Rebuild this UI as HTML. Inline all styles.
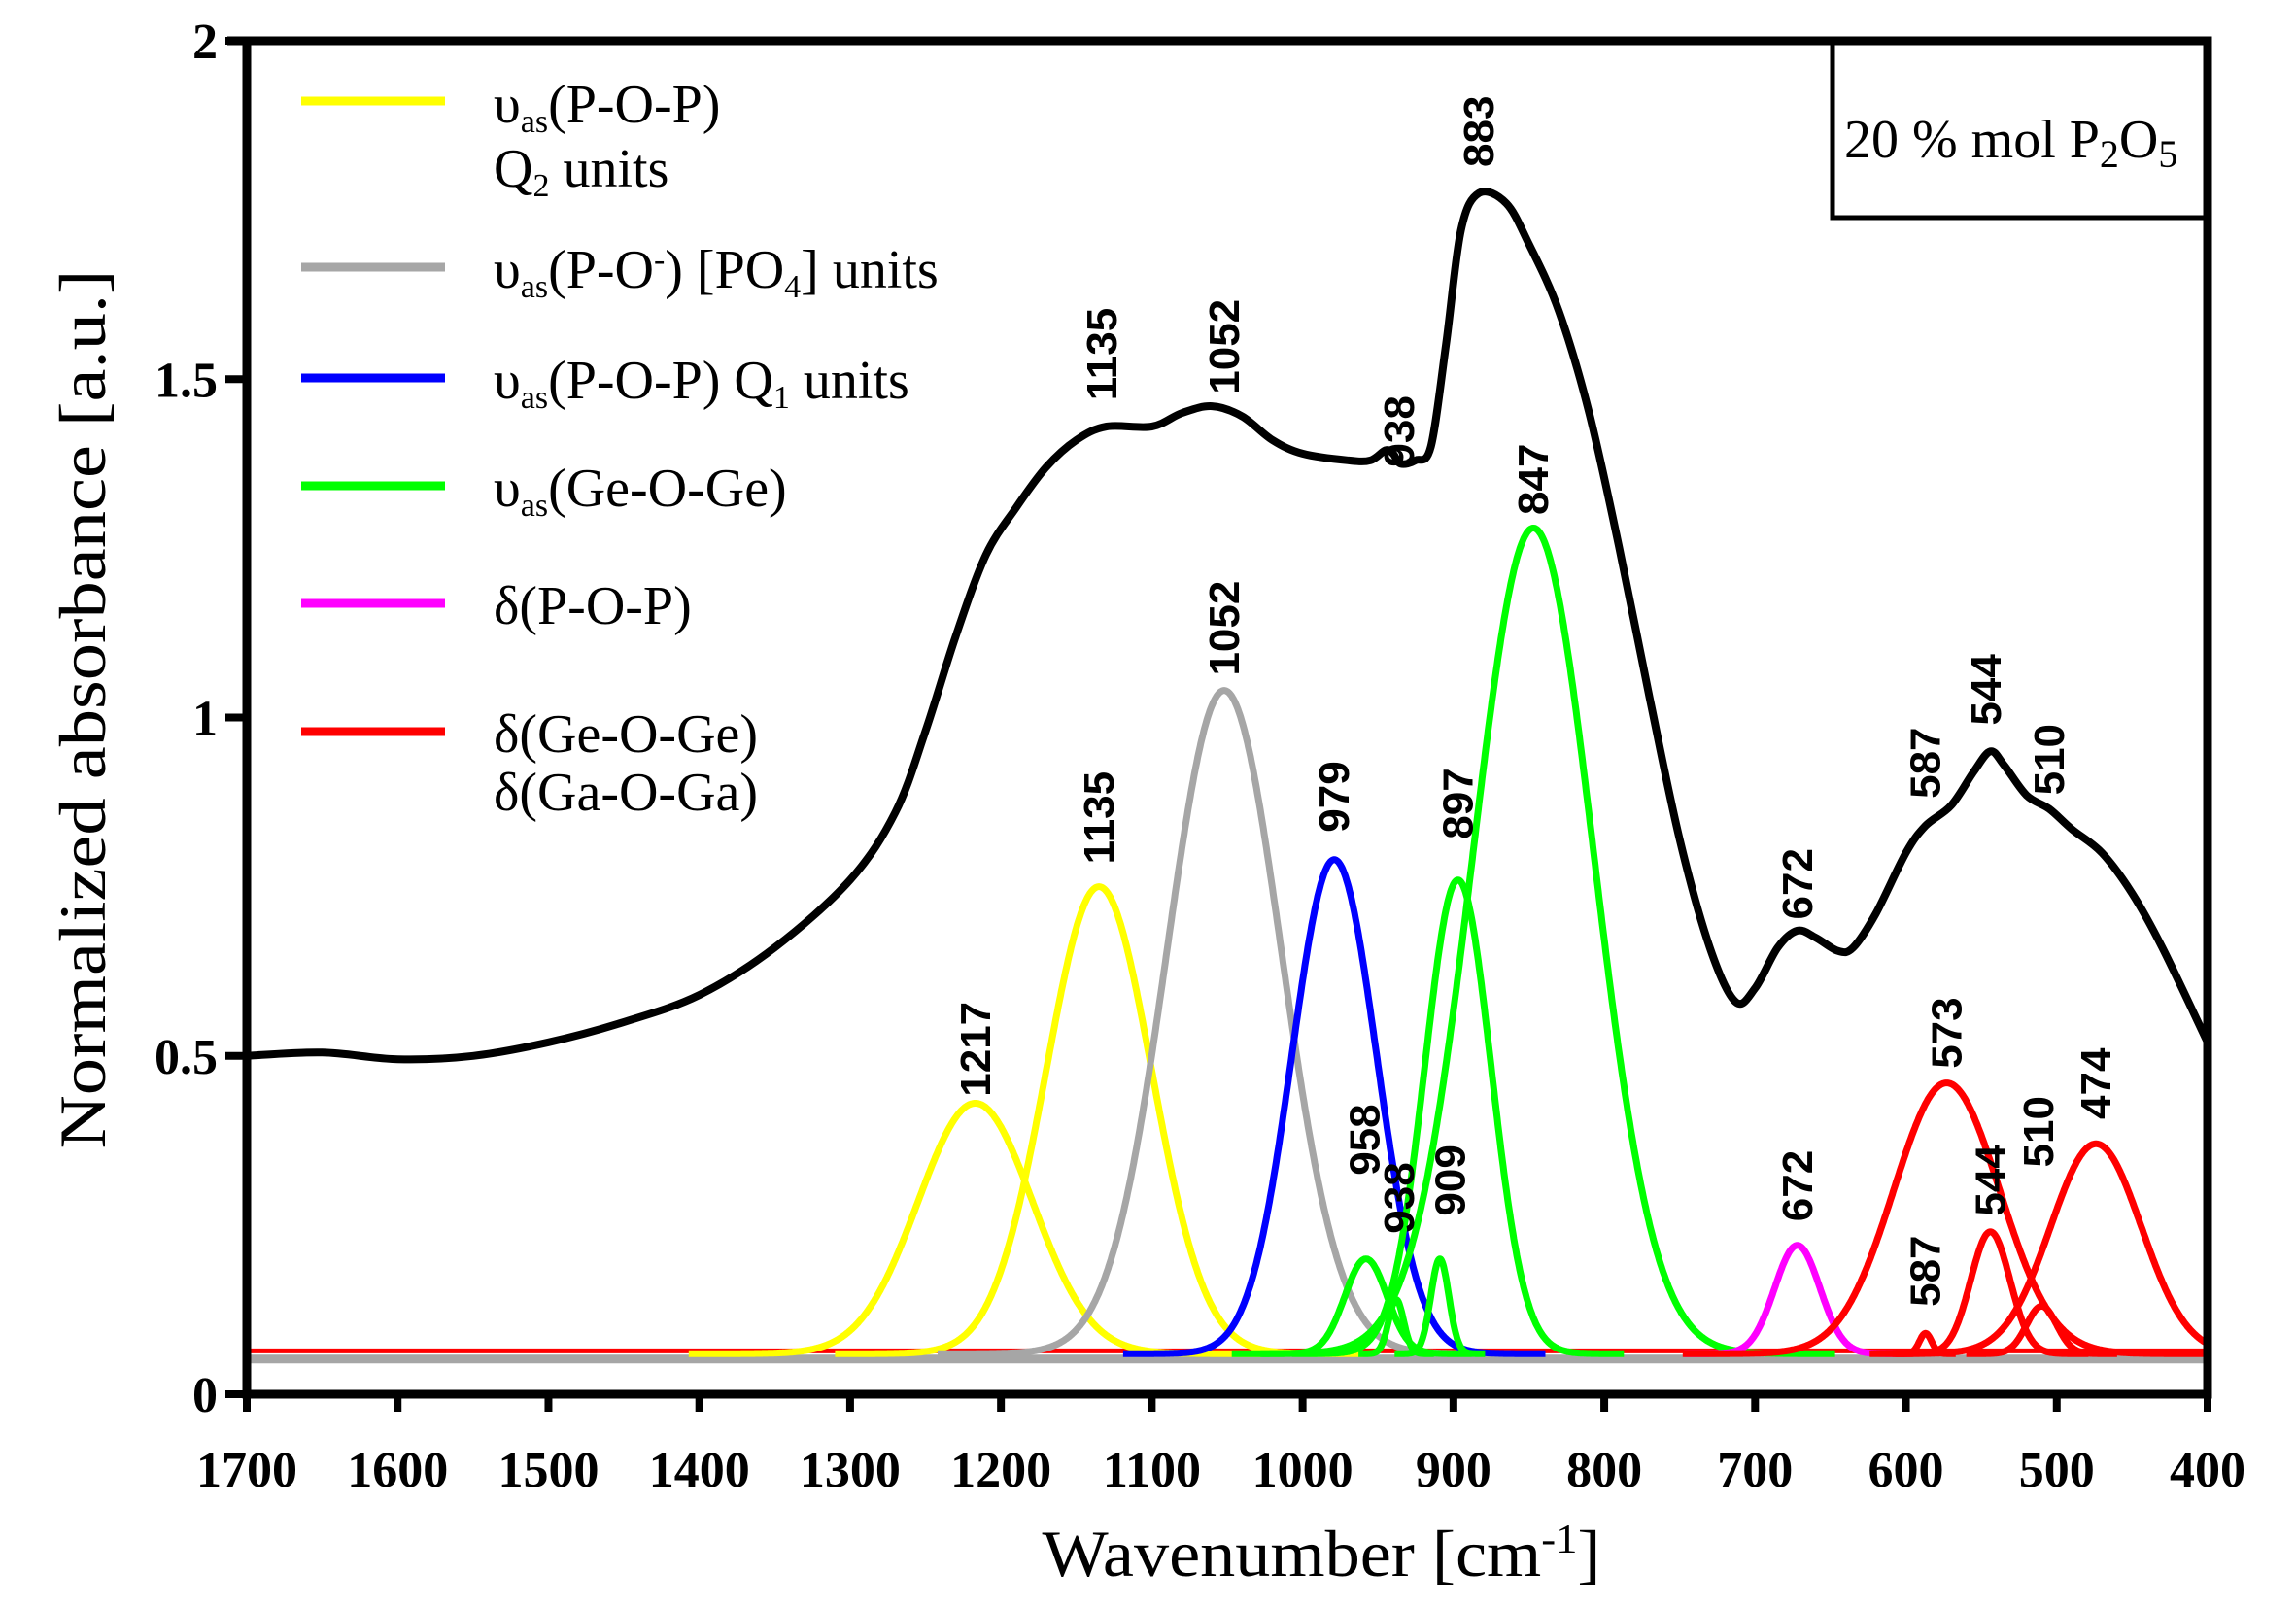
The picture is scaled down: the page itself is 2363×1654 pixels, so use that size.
<!DOCTYPE html>
<html><head><meta charset="utf-8">
<style>
html,body{margin:0;padding:0;background:#fff;}
svg{display:block;}
.tick{font-family:"Liberation Serif",serif;font-weight:bold;font-size:52px;fill:#000;}
.leg{font-family:"Liberation Serif",serif;font-size:56px;fill:#000;}
.pk{font-family:"Liberation Sans",sans-serif;font-weight:bold;font-size:44px;fill:#000;}
</style></head>
<body>
<svg id="chart" width="2363" height="1654" viewBox="0 0 2363 1654" xmlns="http://www.w3.org/2000/svg">
<g id="comps"></g>
<g id="main"></g>
<g id="labels"></g>
<g id="axes"></g>
<g>
  <line x1="310" y1="104" x2="458" y2="104" stroke="#ffff00" stroke-width="9"/>
  <text class="leg" x="508" y="126">υ<tspan font-size="34" dy="10">as</tspan><tspan dy="-10">(P-O-P)</tspan></text>
  <text class="leg" x="508" y="192">Q<tspan font-size="34" dy="10">2</tspan><tspan dy="-10"> units</tspan></text>
  <line x1="310" y1="275" x2="458" y2="275" stroke="#a6a6a6" stroke-width="9"/>
  <text class="leg" x="508" y="296">υ<tspan font-size="34" dy="10">as</tspan><tspan dy="-10">(P-O</tspan><tspan font-size="34" dy="-18">-</tspan><tspan dy="18">) [PO</tspan><tspan font-size="34" dy="10">4</tspan><tspan dy="-10">] units</tspan></text>
  <line x1="310" y1="389" x2="458" y2="389" stroke="#0000ff" stroke-width="9"/>
  <text class="leg" x="508" y="410">υ<tspan font-size="34" dy="10">as</tspan><tspan dy="-10">(P-O-P) Q</tspan><tspan font-size="34" dy="10">1</tspan><tspan dy="-10"> units</tspan></text>
  <line x1="310" y1="500" x2="458" y2="500" stroke="#00ff00" stroke-width="9"/>
  <text class="leg" x="508" y="521">υ<tspan font-size="34" dy="10">as</tspan><tspan dy="-10">(Ge-O-Ge)</tspan></text>
  <line x1="310" y1="621" x2="458" y2="621" stroke="#ff00ff" stroke-width="9"/>
  <text class="leg" x="508" y="642">δ(P-O-P)</text>
  <line x1="310" y1="753" x2="458" y2="753" stroke="#ff0000" stroke-width="9"/>
  <text class="leg" x="508" y="774">δ(Ge-O-Ge)</text>
  <text class="leg" x="508" y="834">δ(Ga-O-Ga)</text>
</g>
<g>
  <rect x="1886" y="44" width="386" height="180" fill="none" stroke="#000" stroke-width="5"/>
  <text class="leg" x="1898" y="162" font-size="60">20 % mol P<tspan font-size="40" dy="10">2</tspan><tspan dy="-10">O</tspan><tspan font-size="40" dy="10">5</tspan></text>
</g>
<text x="1360" y="1622" text-anchor="middle" font-family="Liberation Serif,serif" font-size="68" textLength="575" lengthAdjust="spacingAndGlyphs">Wavenumber [cm<tspan font-size="42" dy="-24">-1</tspan><tspan dy="24">]</tspan></text>
<text transform="translate(108,730) rotate(-90)" text-anchor="middle" font-family="Liberation Serif,serif" font-size="68" textLength="905" lengthAdjust="spacingAndGlyphs">Normalized absorbance [a.u.]</text>
</svg>
<script>
// axis data
const xTicks = [1700,1600,1500,1400,1300,1200,1100,1000,900,800,700,600,500,400];
const yTicks = [0,0.5,1,1.5,2];
const yTickLabels = ["0","0.5","1","1.5","2"];
// measured spectrum (wavenumber, absorbance)
const specWn = [1700,1650,1600,1550,1500,1450,1400,1350,1300,1270,1250,1230,1210,1190,1170,1150,1130,1100,1080,1060,1040,1020,1000,970,955,945,940,935,925,915,905,895,883,865,850,830,810,790,770,750,730,713,700,685,672,660,645,635,620,600,587,570,555,544,535,520,505,490,470,450,430,400];
const specVal = [0.50,0.505,0.495,0.50,0.52,0.55,0.59,0.66,0.76,0.86,0.98,1.12,1.24,1.31,1.37,1.41,1.43,1.43,1.45,1.46,1.445,1.41,1.39,1.38,1.38,1.395,1.39,1.375,1.38,1.40,1.55,1.72,1.775,1.76,1.70,1.60,1.45,1.25,1.03,0.82,0.66,0.58,0.60,0.66,0.685,0.675,0.655,0.66,0.71,0.80,0.84,0.87,0.92,0.95,0.93,0.885,0.865,0.835,0.80,0.74,0.66,0.52];
// gaussian components
const compCenter = [1217,1135,1052,979,958,938,909,897,847,672,587,573,544,510,474];
const compPeak   = [0.43,0.75,1.04,0.79,0.20,0.14,0.20,0.76,1.28,0.22,0.09,0.46,0.24,0.13,0.37];
const compSigma  = [38,35,38,28,14,5,6,22,40,15,4,35,13,10,30];
const compColor  = ["#ffff00","#ffff00","#a6a6a6","#0000ff","#00ff00","#00ff00","#00ff00","#00ff00","#00ff00","#ff00ff","#ff0000","#ff0000","#ff0000","#ff0000","#ff0000"];
const compBase = 0.06;
// peak labels (wavenumber, value position)
const lblText = ["1135","1052","938","883","847","672","587","544","510","1052","1135","1217","979","897","958","938","909","672","573","544","510","474","587"];
const lblWn   = [1133,1052,936,883,847,672,587,547,505,1052,1135,1217,979,897,959,936,902,672,573,544,512,474,587];
const lblVal  = [1.537,1.548,1.423,1.866,1.352,0.754,0.933,1.041,0.938,1.132,0.852,0.510,0.883,0.873,0.376,0.290,0.316,0.308,0.534,0.316,0.388,0.459,0.182];

const NS="http://www.w3.org/2000/svg";
const X0=254,X1=2272,Y0=1435,Y2=42;
function xs(w){return X0+(1700-w)*(X1-X0)/1300;}
function ys(v){return Y0-v*(Y0-Y2)/2;}

function mk(tag,attrs,parent){const e=document.createElementNS(NS,tag);for(const k in attrs)e.setAttribute(k,attrs[k]);parent.appendChild(e);return e;}

const comps=document.getElementById('comps');
let gb=mk('line',{x1:xs(1700),x2:xs(400),y1:ys(0.052),y2:ys(0.052),stroke:'#a6a6a6','stroke-width':9},comps);


let rb=mk('line',{x1:xs(1700),x2:xs(400),y1:ys(0.064),y2:ys(0.064),stroke:'#ff0000','stroke-width':5},comps);



for(let i=0;i<compCenter.length;i++){
  const c=compCenter[i],s=compSigma[i],a=compPeak[i]-compBase;
  const lo=Math.max(400,c-5*s),hi=Math.min(1700,c+5*s);
  let d='';
  for(let w=hi;w>=lo;w-=0.5){
    const v=compBase+a*Math.exp(-0.5*((w-c)/s)**2);
    d+=(d?'L':'M')+xs(w).toFixed(1)+','+ys(v).toFixed(1);
  }
  const p=mk('path',{d:d,fill:'none',stroke:compColor[i],'stroke-width':7,'stroke-linejoin':'round'},comps);
  
  
}

(function(){
  const pts=specWn.map((w,i)=>[xs(w),ys(specVal[i])]);
  let d='M'+pts[0][0]+','+pts[0][1];
  for(let i=0;i<pts.length-1;i++){
    const p0=pts[Math.max(0,i-1)],p1=pts[i],p2=pts[i+1],p3=pts[Math.min(pts.length-1,i+2)];
    const c1=[p1[0]+(p2[0]-p0[0])/6,p1[1]+(p2[1]-p0[1])/6];
    const c2=[p2[0]-(p3[0]-p1[0])/6,p2[1]-(p3[1]-p1[1])/6];
    d+='C'+c1[0].toFixed(1)+','+c1[1].toFixed(1)+' '+c2[0].toFixed(1)+','+c2[1].toFixed(1)+' '+p2[0].toFixed(1)+','+p2[1].toFixed(1);
  }
  const p=mk('path',{d:d,fill:'none',stroke:'#000','stroke-width':8,'stroke-linejoin':'round'},document.getElementById('main'));
  
  
})();

const labels=document.getElementById('labels');
for(let i=0;i<lblText.length;i++){
  const t=mk('text',{class:'pk','text-anchor':'middle',transform:'translate('+xs(lblWn[i]).toFixed(1)+','+ys(lblVal[i]).toFixed(1)+') rotate(-90)',dy:'15'},labels);
  t.textContent=lblText[i];
  
  
}

const axes=document.getElementById('axes');
let fr=mk('path',{d:`M${X0},${Y2} V${Y0} H${X1} V${Y2} H${X0-20}`,fill:'none',stroke:'#000','stroke-width':9},axes);


xTicks.forEach(w=>{
  const l=mk('line',{x1:xs(w),x2:xs(w),y1:Y0,y2:Y0+18,stroke:'#000','stroke-width':8},axes);
  
  
  const t=mk('text',{class:'tick',x:xs(w),y:1530,'text-anchor':'middle'},axes);
  t.textContent=String(w);
  
  
});
yTicks.forEach((v,i)=>{
  const l=mk('line',{x1:X0-22,x2:X0,y1:ys(v),y2:ys(v),stroke:'#000','stroke-width':8},axes);
  
  
  const t=mk('text',{class:'tick',x:X0-30,y:ys(v)+18,'text-anchor':'end'},axes);
  t.textContent=yTickLabels[i];
  
  
});
</script>
</body></html>
